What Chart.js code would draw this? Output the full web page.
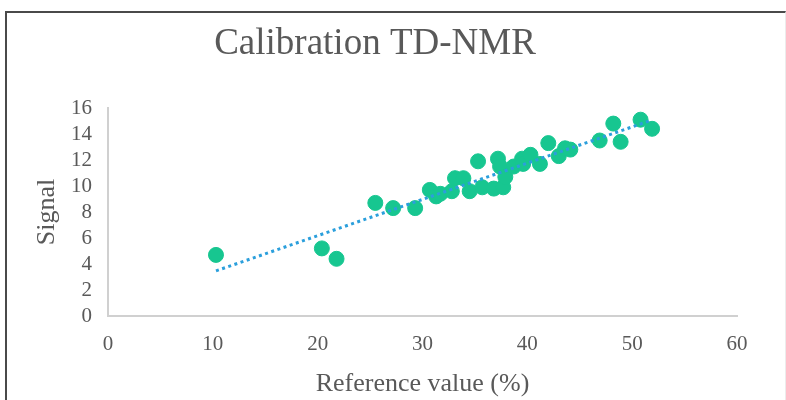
<!DOCTYPE html>
<html>
<head>
<meta charset="utf-8">
<script src="https://cdn.jsdelivr.net/npm/chart.js@4/dist/chart.umd.min.js"></script>
<style>
  html, body { margin: 0; padding: 0; background: #ffffff; }
  #wrap { position: relative; width: 786px; height: 400px; overflow: hidden; }
  #frame { position: absolute; left: 5px; top: 11px; width: 778px; height: 400px;
           border-top: 2px solid #4a4a4a; border-left: 2px solid #4a4a4a; border-right: 1px solid #ececec; }
  canvas { position: absolute; left: 0; top: 0; }
</style>
</head>
<body>
<div id="wrap">
  <div id="frame"></div>
  <canvas id="c" width="786" height="400"></canvas>
</div>
<script>
const chartTitle = 'Calibration TD-NMR';
const xAxisTitle = 'Reference value (%)';
const yAxisTitle = 'Signal';

const referenceValues = [10.3, 20.4, 21.8, 25.5, 27.2, 29.3, 30.7, 31.3, 31.7, 32.8, 33.1, 33.9, 34.5, 35.3, 35.7, 36.8, 37.2, 37.4, 37.7, 37.9, 38.7, 39.5, 39.6, 40.3, 41.2, 42.0, 43.0, 43.6, 44.1, 46.9, 48.2, 48.9, 50.8, 51.9];
const signalValues    = [4.7,  5.2,  4.4,  8.7,  8.3,  8.3,  9.7,  9.2,  9.4,  9.6,  10.6, 10.6, 9.6,  11.9, 9.9,  9.8,  12.1, 11.5, 9.9,  10.7, 11.5, 12.1, 11.7, 12.4, 11.7, 13.3, 12.3, 12.9, 12.8, 13.5, 14.8, 13.4, 15.1, 14.4];

const xTicks = [0, 10, 20, 30, 40, 50, 60];
const yTicks = [0, 2, 4, 6, 8, 10, 12, 14, 16];

// Linear trendline (least squares) over the data, drawn between min and max x
function linearFit(xs, ys) {
  const n = xs.length;
  let sx = 0, sy = 0, sxx = 0, sxy = 0;
  for (let i = 0; i < n; i++) { sx += xs[i]; sy += ys[i]; sxx += xs[i]*xs[i]; sxy += xs[i]*ys[i]; }
  const slope = (n*sxy - sx*sy) / (n*sxx - sx*sx);
  const intercept = (sy - slope*sx) / n;
  return {slope, intercept};
}
const fit = linearFit(referenceValues, signalValues);
const xMin = Math.min(...referenceValues), xMax = Math.max(...referenceValues);
const trendPoints = [xMin, xMax].map(x => ({x, y: fit.intercept + fit.slope * x}));

const points = referenceValues.map((x, i) => ({x, y: signalValues[i]}));

const FONT = "'Liberation Serif', 'Times New Roman', serif";
const TEXT = '#595959';

const titlePlugin = {
  id: 'customTitle',
  afterDraw(chart) {
    const ctx = chart.ctx;
    ctx.save();
    ctx.font = '37px ' + FONT;
    ctx.fillStyle = TEXT;
    ctx.textAlign = 'center';
    ctx.textBaseline = 'middle';
    ctx.fillText(chartTitle, 375, 44);
    ctx.restore();
  }
};

new Chart(document.getElementById('c'), {
  type: 'scatter',
  data: {
    datasets: [
      {
        label: 'Signal',
        data: points,
        backgroundColor: '#17c690',
        borderColor: '#17c690',
        pointRadius: 7.5,
        pointHoverRadius: 7.5,
        order: 1
      },
      {
        label: 'Trend',
        type: 'line',
        data: trendPoints,
        borderColor: '#2b9fdc',
        borderWidth: 3,
        borderDash: [3, 3.5],
        borderCapStyle: 'butt',
        pointRadius: 0,
        fill: false,
        order: 0
      }
    ]
  },
  options: {
    responsive: false,
    animation: false,
    events: [],
    layout: { padding: { top: 108, right: 49, left: 0, bottom: 0 } },
    plugins: { legend: { display: false }, title: { display: false }, tooltip: { enabled: false } },
    scales: {
      x: {
        type: 'linear',
        min: 0, max: 60,
        afterBuildTicks: s => { s.ticks = xTicks.map(v => ({value: v})); },
        afterFit: s => { s.height = 84; },
        grid: { display: false, drawTicks: false },
        border: { display: true, color: '#d0d0d0', width: 2 },
        ticks: { padding: 16, color: TEXT, autoSkip: false, font: { family: FONT, size: 21 }, maxRotation: 0 },
        title: { display: true, text: xAxisTitle, color: TEXT, font: { family: FONT, size: 26 }, padding: { top: 0, bottom: 0 } }
      },
      y: {
        type: 'linear',
        min: 0, max: 16,
        afterBuildTicks: s => { s.ticks = yTicks.map(v => ({value: v})); },
        afterFit: s => { s.width = 108; },
        grid: { display: false, drawTicks: false },
        border: { display: true, color: '#d0d0d0', width: 2 },
        ticks: { padding: 16, color: TEXT, autoSkip: false, font: { family: FONT, size: 21 } },
        title: { display: true, text: yAxisTitle, color: TEXT, font: { family: FONT, size: 26 }, padding: { top: 32, bottom: 0 } }
      }
    }
  },
  plugins: [titlePlugin]
});
</script>
</body>
</html>
